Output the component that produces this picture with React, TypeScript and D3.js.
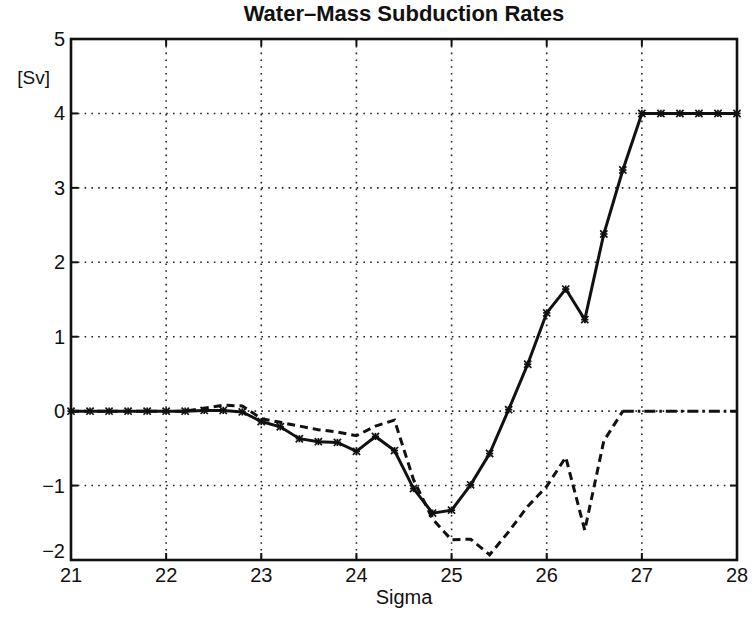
import React from "react";
import * as d3 from "d3";

const sigma = d3.range(36).map((i) => +(21 + i * 0.2).toFixed(1));

const solidValues = [
  0, 0, 0, 0, 0, 0, 0, 0.01, 0.01, -0.01,
  -0.14, -0.21, -0.37, -0.41, -0.42, -0.54, -0.34, -0.53, -1.04, -1.37,
  -1.33, -0.99, -0.57, 0.02, 0.63, 1.32, 1.64, 1.23, 2.38, 3.24,
  4, 4, 4, 4, 4, 4,
];

const dashedSigma = sigma.slice(0, 30);
const dashedValues = [
  0, 0, 0, 0, 0, 0, 0, 0.04, 0.08, 0.07,
  -0.1, -0.15, -0.2, -0.25, -0.28, -0.33, -0.2, -0.12, -0.92, -1.45,
  -1.73, -1.72, -1.93, -1.62, -1.28, -1.01, -0.62, -1.6, -0.4, 0,
];

const dashDotSigma = sigma.slice(29);
const dashDotValues = [0, 0, 0, 0, 0, 0, 0];

const xTicks = [21, 22, 23, 24, 25, 26, 27, 28];
const yTicks = [-2, -1, 0, 1, 2, 3, 4, 5];

const title = "Water\u2013Mass Subduction Rates";
const xLabel = "Sigma";
const yLabel = "[Sv]";

export default function App() {
  const W = 752, H = 617;
  const left = 71, right = 737, top = 39, bottom = 560;
  const x = d3.scaleLinear().domain([21, 28]).range([left, right]);
  const y = d3.scaleLinear().domain([-2, 5]).range([bottom, top]);
  const line = d3.line<[number, number]>().x((d) => x(d[0])).y((d) => y(d[1]));
  const solidPts: [number, number][] = sigma.map((s, i) => [s, solidValues[i]]);
  const dashedPts: [number, number][] = dashedSigma.map((s, i) => [s, dashedValues[i]]);
  const dashDotPts: [number, number][] = dashDotSigma.map((s, i) => [s, dashDotValues[i]]);
  const font = "'Liberation Sans', Arial, Helvetica, sans-serif";
  const tick = 7;
  const m = 3.6;
  return (
    <svg width={W} height={H} style={{ position: "absolute", left: 0, top: 0, background: "#fff" }}>
      <rect x={0} y={0} width={W} height={H} fill="#fff" />
      {/* grid */}
      {xTicks.slice(1, -1).map((t) => (
        <line key={"gx" + t} x1={x(t)} x2={x(t)} y1={top} y2={bottom} stroke="#222" strokeWidth={1.6} strokeDasharray="1.6 5.2" />
      ))}
      {yTicks.slice(1, -1).map((t) => (
        <line key={"gy" + t} x1={left} x2={right} y1={y(t)} y2={y(t)} stroke="#222" strokeWidth={1.6} strokeDasharray="1.6 5.2" />
      ))}
      {/* data */}
      <path d={line(dashDotPts) || ""} fill="none" stroke="#111" strokeWidth={3} strokeDasharray="11 4 2.5 4" />
      <path d={line(dashedPts) || ""} fill="none" stroke="#111" strokeWidth={3} strokeDasharray="8 5" />
      <path d={line(solidPts) || ""} fill="none" stroke="#111" strokeWidth={3} strokeLinejoin="miter" />
      {solidPts.map(([s, v], i) => (
        <g key={"m" + i} transform={`translate(${x(s)},${y(v)})`} stroke="#111" strokeWidth={1.7}>
          <line x1={-m} x2={m} y1={-m} y2={m} />
          <line x1={-m} x2={m} y1={m} y2={-m} />
          <line x1={0} x2={0} y1={-m} y2={m} />
          <line x1={-m} x2={m} y1={0} y2={0} />
        </g>
      ))}
      {/* ticks */}
      {xTicks.map((t) => (
        <g key={"tx" + t}>
          <line x1={x(t)} x2={x(t)} y1={bottom} y2={bottom - tick} stroke="#111" strokeWidth={2} />
          <line x1={x(t)} x2={x(t)} y1={top} y2={top + tick} stroke="#111" strokeWidth={2} />
          <text x={x(t)} y={582} textAnchor="middle" fontFamily={font} fontSize={20} fill="#111">{t}</text>
        </g>
      ))}
      {yTicks.map((t) => (
        <g key={"ty" + t}>
          <line x1={left} x2={left + tick} y1={y(t)} y2={y(t)} stroke="#111" strokeWidth={2} />
          <line x1={right} x2={right - tick} y1={y(t)} y2={y(t)} stroke="#111" strokeWidth={2} />
          <text x={65} y={t === -2 ? y(t) - 2 : y(t) + 7} textAnchor="end" fontFamily={font} fontSize={20} fill="#111">
            {t < 0 ? "\u2212" + Math.abs(t) : t}
          </text>
        </g>
      ))}
      {/* frame */}
      <rect x={left} y={top} width={right - left} height={bottom - top} fill="none" stroke="#111" strokeWidth={2.6} />
      {/* labels */}
      <text x={(left + right) / 2} y={21} textAnchor="middle" fontFamily={font} fontWeight="bold" fontSize={22} fill="#111">{title}</text>
      <text x={(left + right) / 2} y={604} textAnchor="middle" fontFamily={font} fontSize={20} fill="#111">{xLabel}</text>
      <text x={50} y={84} textAnchor="end" fontFamily={font} fontSize={19} fill="#111">{yLabel}</text>
    </svg>
  );
}
